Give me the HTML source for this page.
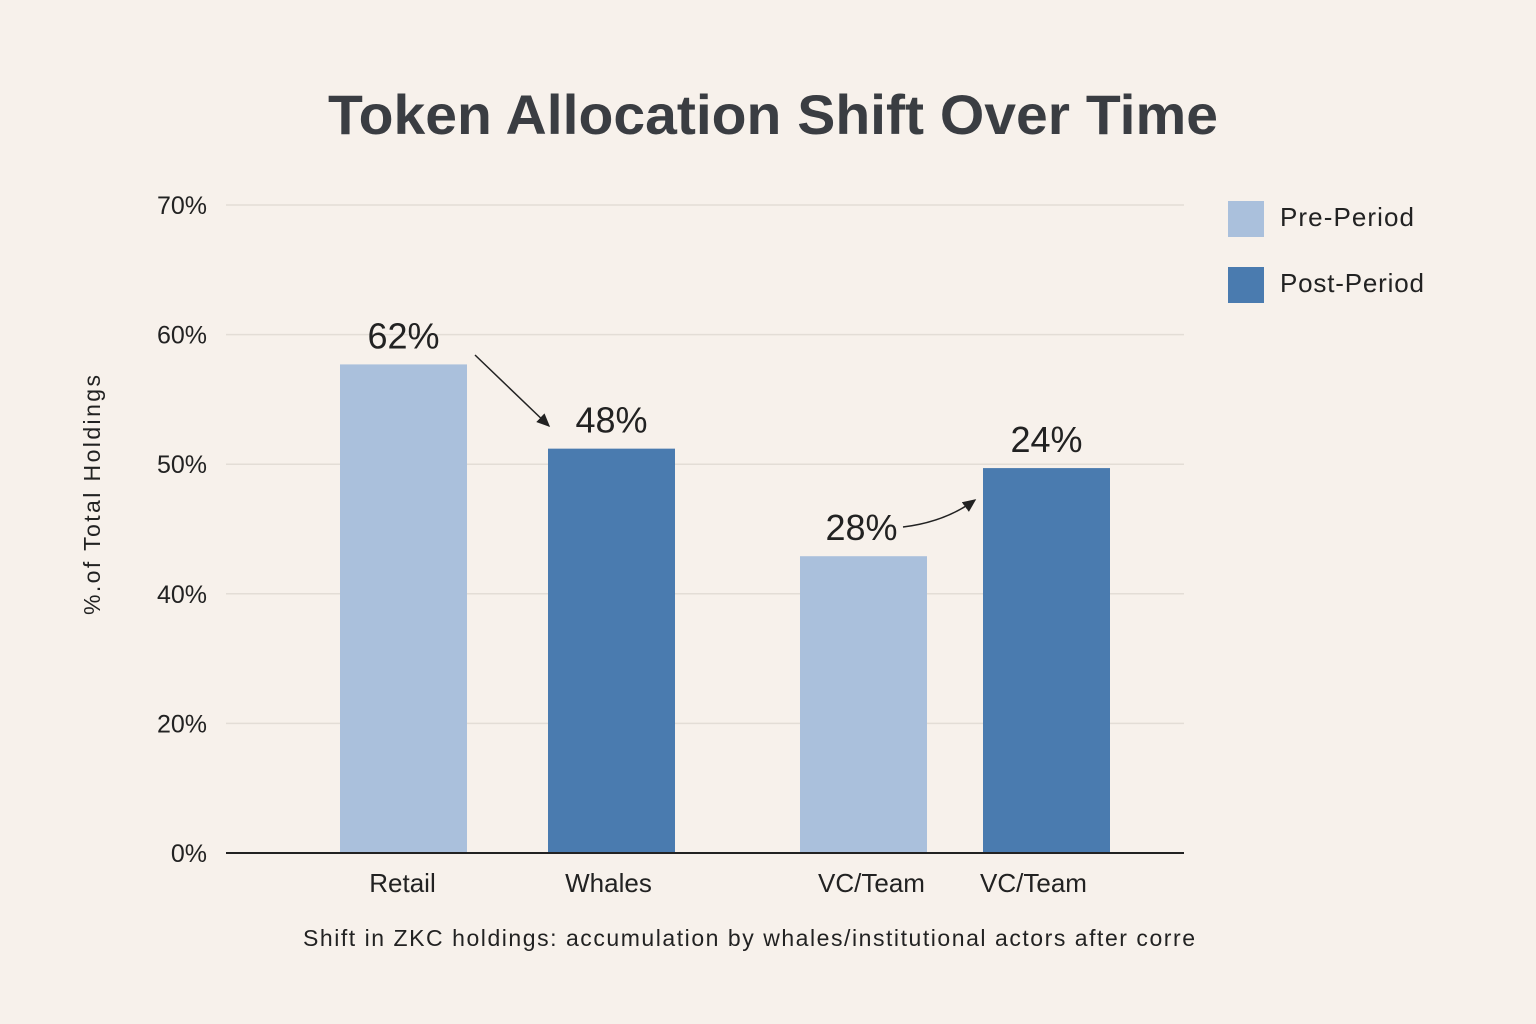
<!DOCTYPE html>
<html><head><meta charset="utf-8"><style>
body{margin:0;background:#f7f1eb;}
svg{display:block;font-family:"Liberation Sans",sans-serif;}
</style></head><body>
<svg width="1536" height="1024" viewBox="0 0 1536 1024" id="chart">
<rect width="1536" height="1024" fill="#f7f1eb"/>
<text x="773" y="134" text-anchor="middle" font-size="56" font-weight="bold" fill="#3a3d42" textLength="890" lengthAdjust="spacingAndGlyphs">Token Allocation Shift Over Time</text>
<text transform="translate(100,495) rotate(-90)" text-anchor="middle" font-size="23" fill="#222" textLength="240">%.of Total Holdings</text>
<g id="grid"></g><g id="bars"></g><g id="labels"></g>
<line x1="226" y1="853" x2="1184" y2="853" stroke="#222" stroke-width="2"/>
<defs><marker id="ah" markerWidth="10" markerHeight="10" refX="8" refY="5" orient="auto"><path d="M0,1 L9,5 L0,9 Z" fill="#222"/></marker></defs>
<line x1="475" y1="355" x2="549" y2="426" stroke="#222" stroke-width="1.5" marker-end="url(#ah)"/>
<path d="M903,527 Q945,522 975,500" fill="none" stroke="#222" stroke-width="1.5" marker-end="url(#ah)"/>
<rect x="1228" y="201" width="36" height="36" fill="#aac0dc"/>
<text x="1280" y="226" font-size="26" fill="#222" textLength="134">Pre-Period</text>
<rect x="1228" y="267" width="36" height="36" fill="#4a7baf"/>
<text x="1280" y="292" font-size="26" fill="#222" textLength="144">Post-Period</text>
<text x="749" y="946" text-anchor="middle" font-size="23" fill="#222" textLength="892">Shift in ZKC holdings: accumulation by whales/institutional actors after corre</text>
</svg>
<script>
const tickValues=[0,20,40,50,60,70];
const tickLabels=["0%","20%","40%","50%","60%","70%"];
const categories=["Retail","Whales","VC/Team","VC/Team"];
const barValues=[57.7,51.2,42.9,49.7];
const barSeries=["pre","post","pre","post"];
const valueLabels=["62%","48%","28%","24%"];
const NS="http://www.w3.org/2000/svg";
const y0=853,step=129.6;
function yScale(v){
  for(let i=0;i<tickValues.length-1;i++){
    if(v<=tickValues[i+1]){const f=(v-tickValues[i])/(tickValues[i+1]-tickValues[i]);return y0-(i+f)*step;}
  }
  return y0-(tickValues.length-1)*step;
}
const barX=[340,548,800,983],bw=127;
const labelShift=[-1,-3,8,-13];
function mk(t,a,p){const e=document.createElementNS(NS,t);for(const k in a)e.setAttribute(k,a[k]);p.appendChild(e);return e;}
const grid=document.getElementById('grid'),bars=document.getElementById('bars'),labels=document.getElementById('labels');
tickValues.forEach((v,i)=>{
  const y=yScale(v);
  if(i>0){const l=mk('line',{x1:226,x2:1184,y1:y,y2:y,stroke:'#e3ddd6','stroke-width':1.5},grid);
  
  }
  const t=mk('text',{x:207,y:y+9,'text-anchor':'end','font-size':25,fill:'#222'},grid);t.textContent=tickLabels[i];
  
  
});
barValues.forEach((v,i)=>{
  const y=yScale(v);
  const r=mk('rect',{x:barX[i],y:y,width:bw,height:y0-y,fill:barSeries[i]==='pre'?'#aac0dc':'#4a7baf'},bars);
  
  
  const c=barX[i]+bw/2;
  const vl=mk('text',{x:c+(i===2?-2:0),y:y-16,'text-anchor':'middle','font-size':36,fill:'#222'},labels);vl.textContent=valueLabels[i];
  
  
  const cl=mk('text',{x:c+labelShift[i],y:892,'text-anchor':'middle','font-size':26,fill:'#222'},labels);cl.textContent=categories[i];
  
  
});
</script>
</body></html>
